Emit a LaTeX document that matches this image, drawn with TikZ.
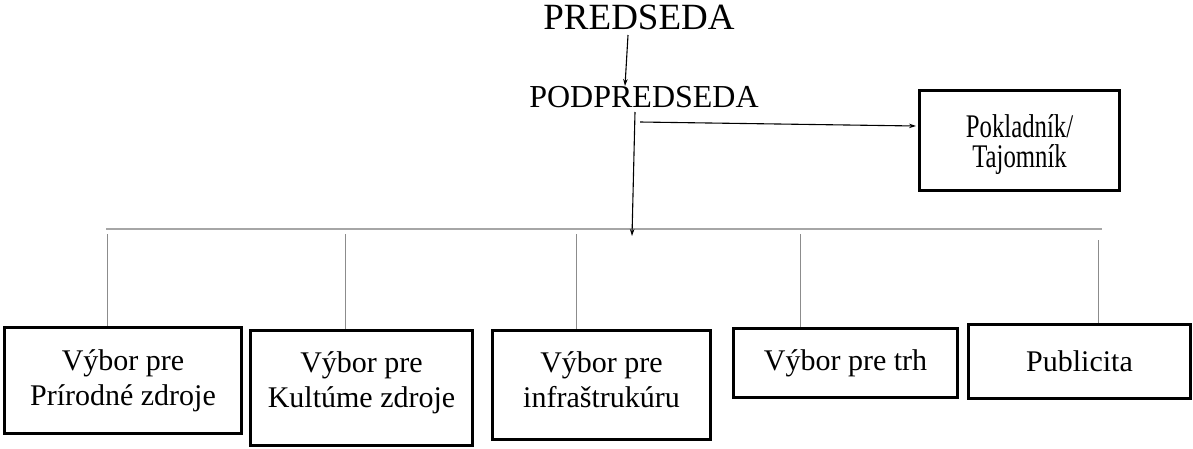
\documentclass[tikz,border=0pt]{standalone}
\usepackage{fontspec}
\setmainfont{Liberation Serif}
\newfontfamily\condfont[FakeStretch=0.75]{Liberation Serif}
\usetikzlibrary{arrows.meta}
\begin{document}
\begin{tikzpicture}[x=1pt,y=-1pt,
  boxnode/.style={draw=black,line width=3pt,inner sep=0pt,align=center,font=\fontsize{30}{35}\selectfont},
  boxlabel/.style={inner sep=0pt,align=center,font=\fontsize{30}{35}\selectfont},
  toptext/.style={anchor=base,inner sep=0pt},
  busline/.style={draw=black!35,line width=1.2pt},
  dropline/.style={draw=black!45,line width=1pt},
  arr/.style={draw=black,line width=1.1pt,-{Stealth[length=7pt,width=4.5pt]}}]
\useasboundingbox (0,0) rectangle (1193,448);
% top texts
\node[toptext,font=\fontsize{37}{40}\selectfont] (pres) at (639,29) {PREDSEDA};
\node[toptext,font=\fontsize{32}{36}\selectfont] (vice) at (644,107) {PODPREDSEDA};
% boxes
\node[boxnode,minimum width=237pt,minimum height=106pt] (b1) at (123,380.5) {Výbor pre\\Prírodné zdroje};
\node[boxnode,minimum width=222pt,minimum height=115pt] (b2) at (361.5,388) {};
\node[boxlabel] (t2) at ([yshift=5pt]b2.center) {Výbor pre\\Kultúme zdroje};
\node[boxnode,minimum width=218pt,minimum height=109pt] (b3) at (601.5,385) {};
\node[boxlabel] (t3) at ([yshift=5pt]b3.center) {Výbor pre\\infraštrukúru};
\node[boxnode,minimum width=224pt,minimum height=69pt] (b4) at (845.5,363) {Výbor pre trh};
\node[boxnode,minimum width=222pt,minimum height=74pt] (b5) at (1079.5,361.5) {Publicita};
\node[boxnode,minimum width=200pt,minimum height=100pt] (pk) at (1019.5,140.5) {};
\node[boxlabel,font=\condfont\fontsize{33}{30}\selectfont] (tpk) at ([yshift=-4pt]pk.center) {Pokladník/\\Tajomník};
% coordinates
\coordinate (a1s) at (628,35);
\coordinate (a1e) at (625,86);
\coordinate (a2s) at (635,112);
\coordinate (a2e) at (632,236);
\coordinate (a3s) at (640,122);
\coordinate (a3e) at (916,126);
\coordinate (busL) at (106,229);
\coordinate (busR) at (1102,229);
\coordinate (d1) at (107,234);
\coordinate (d2) at (345,234);
\coordinate (d3) at (576,234);
\coordinate (d4) at (800,234);
\coordinate (d5) at (1098,240);
% connectors
\draw[busline] (busL) -- (busR);
\draw[dropline] (d1) -- (d1 |- b1.north);
\draw[dropline] (d2) -- (d2 |- b2.north);
\draw[dropline] (d3) -- (d3 |- b3.north);
\draw[dropline] (d4) -- (d4 |- b4.north);
\draw[dropline] (d5) -- (d5 |- b5.north);
\draw[arr] (a1s) -- (a1e);
\draw[arr] (a2s) -- (a2e);
\draw[arr] (a3s) -- (a3e);
\end{tikzpicture}
\end{document}
